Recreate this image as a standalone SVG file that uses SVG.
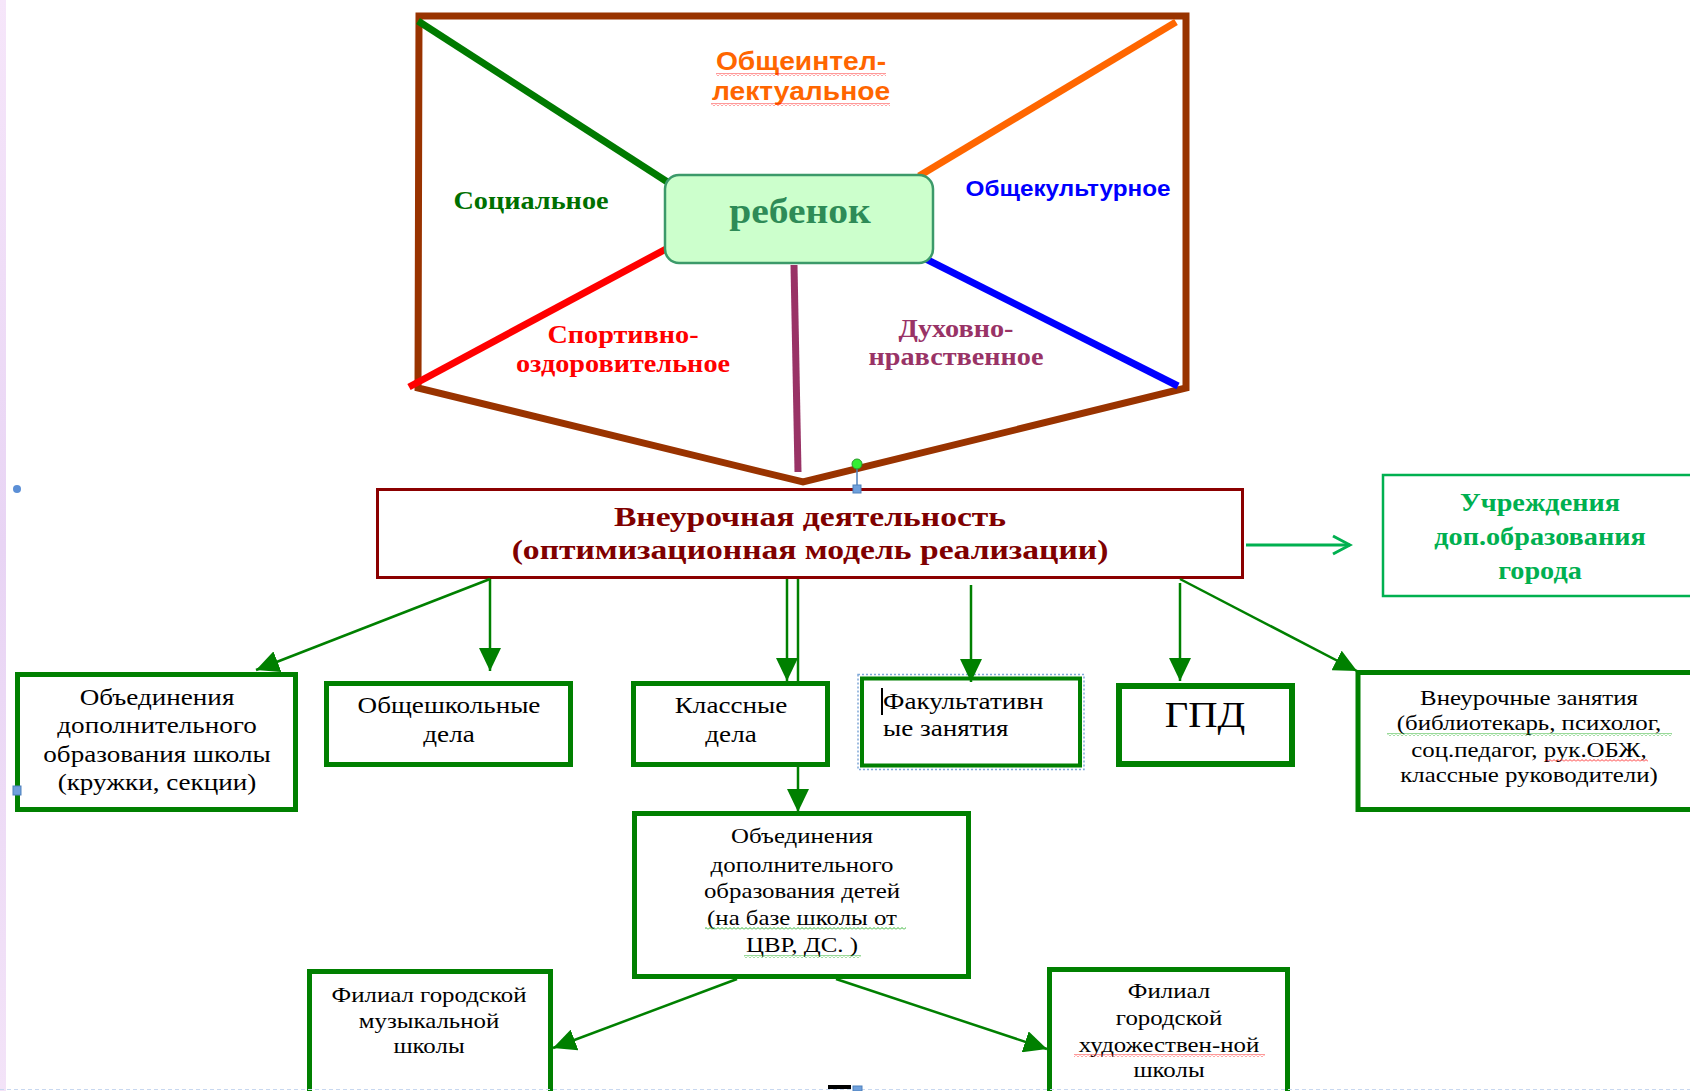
<svg xmlns="http://www.w3.org/2000/svg" width="1690" height="1091" viewBox="0 0 1690 1091">
<defs>
<style>
.serif{font-family:"Liberation Serif","Times New Roman",serif}
.sans{font-family:"Liberation Sans",Arial,sans-serif}
.b{font-weight:bold}
.box{fill:#fff;stroke:#008000;stroke-width:5}
.body{font-size:24px;fill:#000;text-anchor:middle}
.sm{font-size:22px}
.mid{text-anchor:middle}
.conn{stroke:#008000;stroke-width:2.5;fill:none}
.ray{stroke-width:7;fill:none}
.wr{fill:url(#wavyR)}
.wg{fill:url(#wavyG)}
</style>
<linearGradient id="edge" x1="0" y1="0" x2="0" y2="1">
<stop offset="0" stop-color="#f6e6fa"/><stop offset="0.5" stop-color="#e8d4f4"/><stop offset="1" stop-color="#f3e3f8"/>
</linearGradient>
<pattern id="wavyR" patternUnits="userSpaceOnUse" width="4" height="3"><path d="M0,2.5 L2,0.5 L4,2.5" fill="none" stroke="#ff0000" stroke-width="0.8"/></pattern>
<pattern id="wavyG" patternUnits="userSpaceOnUse" width="4" height="3"><path d="M0,2.5 L2,0.5 L4,2.5" fill="none" stroke="#00a000" stroke-width="0.8"/></pattern>
<marker id="tri" markerUnits="userSpaceOnUse" markerWidth="24" markerHeight="22" refX="23" refY="11" orient="auto"><path d="M0,0 L23,11 L0,22 z" fill="#008000"/></marker>
<marker id="open" markerUnits="userSpaceOnUse" markerWidth="22" markerHeight="22" refX="19" refY="11" orient="auto"><path d="M2,2 L19,11 L2,20" fill="none" stroke="#00b050" stroke-width="3"/></marker>
</defs>
<rect width="1690" height="1091" fill="#fff"/>
<rect x="0" y="0" width="6" height="1091" fill="url(#edge)"/>

<!-- top frame & rays -->
<g id="frame">
<polygon points="419,16 1186,16 1186,388 803,482 418,388" fill="none" stroke="#993300" stroke-width="7"/>
</g>
<g id="rays">
<line class="ray" x1="418" y1="21" x2="669" y2="183" stroke="#007a00"/>
<line class="ray" x1="1176" y1="22" x2="919" y2="176" stroke="#ff6600"/>
<line class="ray" x1="409" y1="387" x2="666" y2="249" stroke="#ff0000"/>
<line class="ray" x1="920" y1="256" x2="1178" y2="386" stroke="#0000ff"/>
<line class="ray" x1="794" y1="265" x2="798" y2="472" stroke="#993366" stroke-width="6"/>
</g>

<g id="child">
<rect x="665" y="175" width="268" height="88" rx="14" fill="#ccffcc" stroke="#3c9a6a" stroke-width="2.5"/>
<text class="serif b mid" transform="translate(800 223) scale(1.13 1)" font-size="35" fill="#2e8b57">ребенок</text>
</g>

<g id="labels">
<text class="sans b mid" transform="translate(801 0) scale(1.13 1)" font-size="25" fill="#ff6600"><tspan x="0" y="70">Общеинтел-</tspan><tspan x="0" y="100">лектуальное</tspan></text>
<rect class="wr" x="716" y="73" width="170" height="3"/>
<rect class="wr" x="711" y="103" width="179" height="3"/>
<text class="serif b mid" transform="translate(531 209) scale(1.13 1)" font-size="25" fill="#007000">Социальное</text>
<text class="sans b mid" transform="translate(1068 196) scale(1.13 1)" font-size="21.5" fill="#0000ff">Общекультурное</text>
<text class="serif b mid" transform="translate(623 0) scale(1.13 1)" font-size="25" fill="#ff0000"><tspan x="0" y="343">Спортивно-</tspan><tspan x="0" y="372">оздоровительное</tspan></text>
<text class="serif b mid" transform="translate(956 0) scale(1.13 1)" font-size="25" fill="#993366"><tspan x="0" y="337">Духовно-</tspan><tspan x="0" y="365">нравственное</tspan></text>
</g>

<g id="main">
<rect x="377.5" y="489.5" width="865" height="88" fill="#fff" stroke="#8b0000" stroke-width="3"/>
<text class="serif b mid" transform="translate(810 0) scale(1.2 1)" font-size="28" fill="#7f0000"><tspan x="0" y="526">Внеурочная деятельность</tspan><tspan x="0" y="559">(оптимизационная модель реализации)</tspan></text>
</g>

<g id="city">
<rect x="1383" y="475" width="400" height="121" fill="#fff" stroke="#00b050" stroke-width="2.5"/>
<text class="serif b mid" transform="translate(1540 0) scale(1.13 1)" font-size="25" fill="#00b050"><tspan x="0" y="511">Учреждения</tspan><tspan x="0" y="545">доп.образования</tspan><tspan x="0" y="579">города</tspan></text>
</g>

<g id="n1">
<rect class="box" x="17.5" y="674.5" width="278" height="135"/>
<text class="serif body" transform="translate(157 0) scale(1.13 1)"><tspan x="0" y="705">Объединения</tspan><tspan x="0" y="733">дополнительного</tspan><tspan x="0" y="762">образования школы</tspan><tspan x="0" y="790">(кружки, секции)</tspan></text>
</g>
<g id="n2">
<rect class="box" x="326.5" y="683.5" width="244" height="81"/>
<text class="serif body" transform="translate(449 0) scale(1.13 1)"><tspan x="0" y="713">Общешкольные</tspan><tspan x="0" y="742">дела</tspan></text>
</g>
<g id="n3">
<rect class="box" x="633.5" y="683.5" width="194" height="81"/>
<text class="serif body" transform="translate(731 0) scale(1.13 1)"><tspan x="0" y="713">Классные</tspan><tspan x="0" y="742">дела</tspan></text>
</g>
<g id="n4">
<rect x="858" y="674.5" width="226" height="95" fill="none" stroke="#7fa8d8" stroke-width="1.5" stroke-dasharray="2 2"/>
<rect x="862" y="678.5" width="218" height="87" fill="#fff" stroke="#008000" stroke-width="4"/>
<line x1="882" y1="688" x2="882" y2="715" stroke="#000" stroke-width="2"/>
<text class="serif" transform="translate(883 0) scale(1.13 1)" font-size="24"><tspan x="0" y="709">Факультативн</tspan><tspan x="0" y="736">ые занятия</tspan></text>
</g>
<g id="n5">
<rect x="1119" y="686" width="173" height="78" fill="#fff" stroke="#008000" stroke-width="6"/>
<text class="serif mid" transform="translate(1205 727) scale(1.13 1)" font-size="36">ГПД</text>
</g>
<g id="n6">
<rect class="box" x="1358" y="672.5" width="400" height="137"/>
<text class="serif body sm" transform="translate(1529 0) scale(1.13 1)"><tspan x="0" y="705">Внеурочные занятия</tspan><tspan x="0" y="730">(библиотекарь, психолог,</tspan><tspan x="0" y="757">соц.педагог, рук.ОБЖ,</tspan><tspan x="0" y="782">классные руководители)</tspan></text>
<rect class="wg" x="1387" y="733" width="285" height="3"/>
<rect class="wr" x="1545" y="759" width="103" height="3"/>
</g>
<g id="n7">
<rect class="box" x="634.5" y="813.5" width="334" height="163"/>
<text class="serif body sm" transform="translate(802 0) scale(1.13 1)"><tspan x="0" y="843">Объединения</tspan><tspan x="0" y="872">дополнительного</tspan><tspan x="0" y="898">образования детей</tspan><tspan x="0" y="925">(на базе школы от</tspan><tspan x="0" y="952">ЦВР, ДС. )</tspan></text>
<rect class="wg" x="705" y="927" width="201" height="3"/>
<rect class="wg" x="744" y="955" width="117" height="3"/>
</g>
<g id="n8">
<rect class="box" x="309.5" y="971.5" width="241" height="150"/>
<text class="serif body sm" transform="translate(429 0) scale(1.13 1)"><tspan x="0" y="1002">Филиал городской</tspan><tspan x="0" y="1028">музыкальной</tspan><tspan x="0" y="1053">школы</tspan></text>
</g>
<g id="n9">
<rect class="box" x="1049.5" y="969.5" width="238" height="150"/>
<text class="serif body sm" transform="translate(1169 0) scale(1.13 1)"><tspan x="0" y="998">Филиал</tspan><tspan x="0" y="1025">городской</tspan><tspan x="0" y="1052">художествен-ной</tspan><tspan x="0" y="1077">школы</tspan></text>
<rect class="wr" x="1074" y="1054" width="191" height="3"/>
</g>

<g id="connectors">
<path class="conn" d="M490,579 L256,670" marker-end="url(#tri)"/>
<path class="conn" d="M490,579 L490,671" marker-end="url(#tri)"/>
<path class="conn" d="M787,579 L787,681" marker-end="url(#tri)"/>
<path class="conn" d="M798,579 L798,681"/>
<path class="conn" d="M798,767 L798,812" marker-end="url(#tri)"/>
<path class="conn" d="M971,585 L971,682" marker-end="url(#tri)"/>
<path class="conn" d="M1180,583 L1180,681" marker-end="url(#tri)"/>
<path class="conn" d="M1180,579 L1357,671" marker-end="url(#tri)"/>
<path class="conn" d="M737,979 L553,1048" marker-end="url(#tri)"/>
<path class="conn" d="M836,979 L1047,1049" marker-end="url(#tri)"/>
<path d="M1246,545 L1350,545" fill="none" stroke="#00b050" stroke-width="3" marker-end="url(#open)"/>
</g>

<g id="handles">
<circle cx="17" cy="489" r="4" fill="#5b8fd6"/>
<rect x="13" y="786" width="8" height="9" fill="#6fa0dc" stroke="#4f81bd" stroke-width="1"/>
<line x1="857" y1="464" x2="857" y2="486" stroke="#4f81bd" stroke-width="1.5"/>
<circle cx="857" cy="464" r="5" fill="#33ee33" stroke="#2a9a2a" stroke-width="1"/>
<rect x="853" y="485" width="8" height="8" fill="#6fa0dc" stroke="#4f81bd" stroke-width="1"/>
<line x1="0" y1="1089.5" x2="1690" y2="1089.5" stroke="#c8d8f0" stroke-width="1" stroke-dasharray="4 3"/>
<rect x="828" y="1085" width="23" height="4" fill="#000"/>
<rect x="853" y="1086" width="9" height="5" fill="#6fa0dc" stroke="#4f81bd" stroke-width="1"/>
</g>
</svg>
